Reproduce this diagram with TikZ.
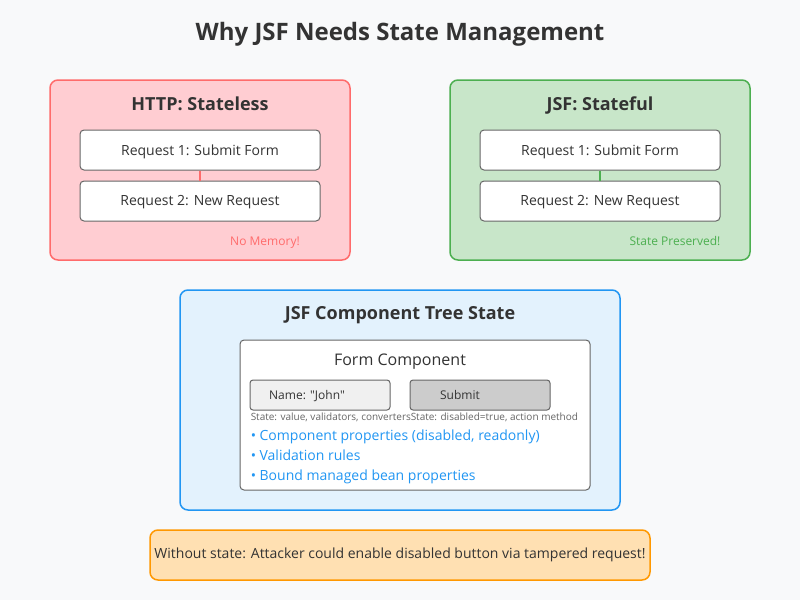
\documentclass[tikz,border=0pt]{standalone}
\usepackage{fontspec}
\setmainfont{Open Sans}[Ligatures=TeXOff]
\usepackage{tikz}
\usetikzlibrary{positioning}

\definecolor{bgcol}{HTML}{F8F9FA}
\definecolor{txtcol}{HTML}{333333}
\definecolor{graycol}{HTML}{666666}
\definecolor{redfill}{HTML}{FFCDD2}
\definecolor{redline}{HTML}{FF6B6B}
\definecolor{greenfill}{HTML}{C8E6C9}
\definecolor{greenline}{HTML}{4CAF50}
\definecolor{bluefill}{HTML}{E3F2FD}
\definecolor{blueline}{HTML}{2196F3}
\definecolor{orangefill}{HTML}{FFE0B2}
\definecolor{orangeline}{HTML}{FF9800}

\newcommand{\fsz}[1]{\fontsize{#1}{#1}\selectfont}

\begin{document}
\begin{tikzpicture}[x=1pt, y=-1pt, line width=1.5pt,
  panel/.style = {draw, rounded corners=8pt, inner sep=0pt},
  reqbox/.style = {draw=graycol, fill=white, line width=1pt, rounded corners=4pt,
    minimum width=240pt, minimum height=40pt, inner sep=0pt},
  fieldbox/.style = {draw=graycol, line width=1pt, rounded corners=3pt,
    minimum width=140pt, minimum height=30pt, inner sep=0pt},
  title/.style = {anchor=base, text=txtcol, font=\fsz{18}\bfseries, inner sep=0pt},
  label/.style = {anchor=base, text=txtcol, font=\fsz{14}, inner sep=0pt},
  note/.style = {anchor=base, font=\fsz{12}, inner sep=0pt},
  tiny/.style = {anchor=base west, text=graycol, font=\fsz{10}, inner sep=0pt},
  bullet/.style = {anchor=base west, text=blueline, font=\fsz{14}, inner sep=0pt}]
  \fill[bgcol] (0,0) rectangle (800,600);
  \useasboundingbox (0,0) rectangle (800,600);

  \node[anchor=base, text=txtcol, font=\fsz{24}\bfseries, inner sep=0pt] (head) at (400,40) {Why JSF Needs State Management};

  % HTTP side
  \node[panel, draw=redline, fill=redfill, minimum width=300pt, minimum height=180pt] (http) at (200,170) {};
  \node[title] (httpt) at (200,110) {HTTP: Stateless};
  \node[reqbox] (req1h) at (200,150) {};
  \node[reqbox] (req2h) [below=10pt of req1h] {};
  \node[label] at (200,155) {Request 1: Submit Form};
  \node[label] at (200,205) {Request 2: New Request};
  \draw[redline] (req1h) -- (req2h);
  \node[note, text=redline] (nomem) at (265,245) {No Memory!};

  % JSF side
  \node[panel, draw=greenline, fill=greenfill, minimum width=300pt, minimum height=180pt] (jsf) at (600,170) {};
  \node[title] (jsft) at (600,110) {JSF: Stateful};
  \node[reqbox] (req1j) at (600,150) {};
  \node[reqbox] (req2j) [below=10pt of req1j] {};
  \node[label] at (600,155) {Request 1: Submit Form};
  \node[label] at (600,205) {Request 2: New Request};
  \draw[greenline] (req1j) -- (req2j);
  \node[note, text=greenline] (kept) at (675,245) {State Preserved!};

  % component tree
  \node[panel, draw=blueline, fill=bluefill, minimum width=440pt, minimum height=220pt] (tree) at (400,400) {};
  \node[title] (treet) at (400,319) {JSF Component Tree State};
  \node[draw=graycol, fill=white, line width=1pt, rounded corners=4pt, minimum width=350pt, minimum height=150pt, inner sep=0pt] (form) at (415,415) {};
  \node[anchor=base, text=txtcol, font=\fsz{16}, inner sep=0pt] (formt) at (400,365) {Form Component};
  \node[fieldbox, fill=black!6] (namef) at (320,395) {};
  \node[fieldbox, fill=black!20] (submit) at (480,395) {};
  \node[note, text=txtcol] at (307,399) {Name: "John"};
  \node[note, text=txtcol] at (460,399) {Submit};
  \node[tiny] (st1) at (250,420) {State: value, validators, converters};
  \node[tiny] (st2) at (410,420) {State: disabled=true, action method};
  \node[bullet] (b1) at (250,440) {• Component properties (disabled, readonly)};
  \node[bullet] (b2) at (250,460) {• Validation rules};
  \node[bullet] (b3) at (250,480) {• Bound managed bean properties};

  % warning
  \node[panel, draw=orangeline, fill=orangefill, minimum width=500pt, minimum height=50pt] (warn) at (400,555) {};
  \node[label] at (400,558) {Without state: Attacker could enable disabled button via tampered request!};

\end{tikzpicture}
\end{document}
